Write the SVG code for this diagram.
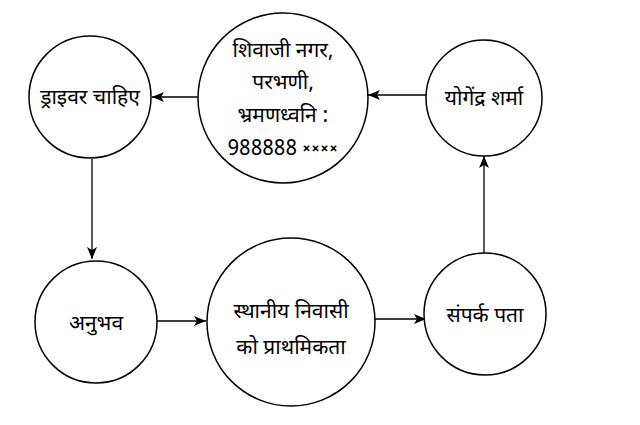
<svg xmlns="http://www.w3.org/2000/svg" width="640" height="425" viewBox="0 0 640 425">
<style>
.node circle{fill:#fff;stroke:#000;stroke-width:1.5}
.node text{font-family:"Noto Sans Devanagari","Noto Sans","Liberation Sans",sans-serif;font-size:21px;fill:#000;text-anchor:middle}
.x{font-size:14px;font-weight:bold;letter-spacing:1px}
.edge{stroke:#000;stroke-width:1.3;fill:none;marker-end:url(#ah)}
</style>
<defs>
<marker id="ah" viewBox="0 0 12 10" refX="12" refY="5" markerWidth="12" markerHeight="10" markerUnits="userSpaceOnUse" orient="auto">
<path d="M0,0 L12,5 L0,10 L3,5 Z" fill="#000"/>
</marker>
</defs>
<g id="connectors">
<line class="edge" x1="198" y1="97" x2="152" y2="97"/>
<line class="edge" x1="426" y1="95" x2="368" y2="95"/>
<line class="edge" x1="92" y1="159" x2="92" y2="259"/>
<line class="edge" x1="157" y1="321" x2="206" y2="321"/>
<line class="edge" x1="375" y1="319" x2="426" y2="319"/>
<line class="edge" x1="484" y1="253" x2="484" y2="156"/>
</g>
<g id="node-address" class="node">
<circle cx="283" cy="98" r="85"/>
<text x="283" y="57">शिवाजी नगर,</text>
<text x="283" y="89">परभणी,</text>
<text x="283" y="122">भ्रमणध्वनि  :</text>
<text x="283" y="155">988888 <tspan class="x" dy="-2">××××</tspan></text>
</g>
<g id="node-driver" class="node">
<circle cx="90" cy="97" r="61"/>
<text x="90" y="104">ड्राइवर चाहिए</text>
</g>
<g id="node-yogendra" class="node">
<circle cx="484" cy="98" r="58"/>
<text x="484" y="105">योगेंद्र शर्मा</text>
</g>
<g id="node-experience" class="node">
<circle cx="96" cy="322" r="61"/>
<text x="96" y="330">अनुभव</text>
</g>
<g id="node-local" class="node">
<circle cx="291" cy="322" r="84"/>
<text x="291" y="318">स्थानीय निवासी</text>
<text x="291" y="354">को प्राथमिकता</text>
</g>
<g id="node-contact" class="node">
<circle cx="485" cy="314" r="61"/>
<text x="485" y="322">संपर्क पता</text>
</g>
</svg>
